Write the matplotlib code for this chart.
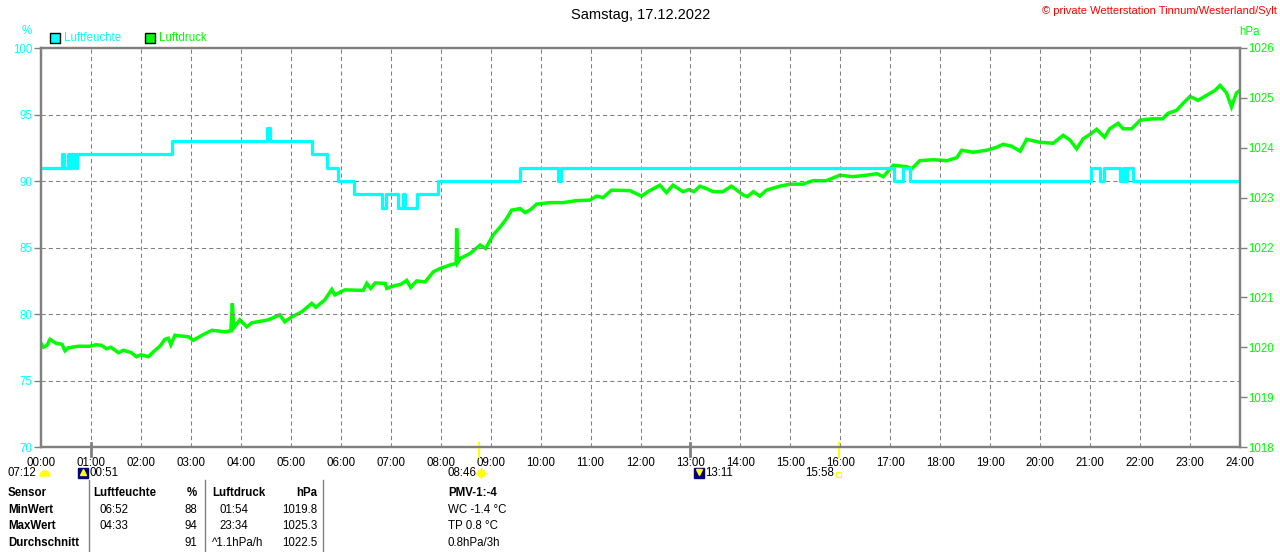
import matplotlib
matplotlib.use("Agg")
import matplotlib.pyplot as plt
from matplotlib.patches import Rectangle, Wedge
from matplotlib.lines import Line2D
from matplotlib.transforms import IdentityTransform, blended_transform_factory

plt.rcParams['font.family'] = ['Liberation Sans', 'DejaVu Sans']

# DATA

# humidity (%), step changes: hour of change -> new value
hum_t = [0.00, 0.42, 0.47, 0.55, 0.58, 0.63, 0.68, 0.73, 2.62, 4.52, 4.58, 5.42, 5.72,
         5.95, 6.27, 6.83, 6.90, 7.15, 7.25, 7.28, 7.52, 7.94, 9.59, 10.35, 10.40,
         17.08, 17.25, 17.40, 21.01, 21.20, 21.28, 21.60, 21.66, 21.70, 21.74, 21.86, 24.00]
hum_v = [91, 92, 91, 92, 91, 92, 91, 92, 93, 94, 93, 92, 91,
         90, 89, 88, 89, 88, 89, 88, 89, 90, 91, 90, 91,
         90, 91, 90, 91, 90, 91, 90, 91, 90, 91, 90, 90]

# air pressure (hPa)
pres_t = [0.00, 0.05, 0.12, 0.18, 0.30, 0.42, 0.48, 0.55, 0.75, 0.98, 1.10, 1.21, 1.31, 1.40,
          1.55, 1.65, 1.81, 1.91, 2.00, 2.15, 2.25, 2.38, 2.48, 2.55, 2.60, 2.68, 2.95, 3.05,
          3.22, 3.42, 3.68, 3.80, 3.83, 3.86, 3.98, 4.12, 4.22, 4.55, 4.78, 4.88, 5.02, 5.22,
          5.42, 5.50, 5.68, 5.82, 5.88, 6.08, 6.45, 6.52, 6.60, 6.69, 6.89, 6.92, 7.09, 7.20,
          7.32, 7.40, 7.52, 7.69, 7.85, 7.99, 8.19, 8.31, 8.32, 8.34, 8.39, 8.59, 8.79, 8.90,
          9.05, 9.19, 9.32, 9.42, 9.59, 9.69, 9.80, 9.92, 10.19, 10.45, 10.72, 10.99, 11.12,
          11.25, 11.42, 11.79, 12.02, 12.15, 12.39, 12.52, 12.65, 12.85, 12.97, 13.07, 13.19,
          13.32, 13.45, 13.65, 13.82, 14.06, 14.14, 14.26, 14.39, 14.52, 14.79, 14.99, 15.25,
          15.45, 15.72, 15.99, 16.25, 16.53, 16.73, 16.86, 17.06, 17.33, 17.43, 17.59, 17.86,
          18.13, 18.33, 18.43, 18.66, 18.93, 19.13, 19.26, 19.43, 19.60, 19.73, 19.99, 20.26,
          20.46, 20.60, 20.73, 20.86, 21.00, 21.13, 21.29, 21.39, 21.56, 21.66, 21.83, 22.00,
          22.13, 22.26, 22.45, 22.56, 22.73, 22.86, 23.00, 23.16, 23.33, 23.50, 23.60, 23.73,
          23.83, 23.93, 24.00]
pres_v = [1020.08, 1020.00, 1020.04, 1020.16, 1020.08, 1020.06, 1019.93, 1019.99, 1020.02,
          1020.02, 1020.05, 1020.04, 1019.97, 1020.00, 1019.89, 1019.94, 1019.89, 1019.81,
          1019.85, 1019.81, 1019.91, 1020.02, 1020.16, 1020.18, 1020.05, 1020.24, 1020.21,
          1020.14, 1020.24, 1020.34, 1020.31, 1020.33, 1020.88, 1020.39, 1020.55, 1020.41,
          1020.49, 1020.55, 1020.65, 1020.51, 1020.61, 1020.71, 1020.88, 1020.80, 1020.95,
          1021.16, 1021.05, 1021.15, 1021.14, 1021.28, 1021.18, 1021.29, 1021.28, 1021.18,
          1021.24, 1021.26, 1021.34, 1021.20, 1021.33, 1021.31, 1021.51, 1021.58, 1021.65,
          1021.68, 1022.38, 1021.70, 1021.78, 1021.88, 1022.05, 1021.98, 1022.25, 1022.41,
          1022.58, 1022.75, 1022.78, 1022.70, 1022.76, 1022.87, 1022.90, 1022.90, 1022.94,
          1022.95, 1023.03, 1023.00, 1023.15, 1023.14, 1023.03, 1023.12, 1023.25, 1023.10,
          1023.25, 1023.12, 1023.16, 1023.12, 1023.23, 1023.18, 1023.12, 1023.12, 1023.23,
          1023.05, 1023.02, 1023.12, 1023.03, 1023.15, 1023.23, 1023.27, 1023.27, 1023.34,
          1023.34, 1023.45, 1023.42, 1023.45, 1023.48, 1023.42, 1023.65, 1023.62, 1023.58,
          1023.74, 1023.76, 1023.74, 1023.80, 1023.95, 1023.91, 1023.95, 1024.01, 1024.07,
          1024.03, 1023.93, 1024.17, 1024.11, 1024.09, 1024.25, 1024.15, 1023.98, 1024.18,
          1024.27, 1024.37, 1024.21, 1024.38, 1024.49, 1024.38, 1024.38, 1024.55, 1024.57,
          1024.58, 1024.58, 1024.69, 1024.75, 1024.89, 1025.03, 1024.95, 1025.05, 1025.15,
          1025.25, 1025.10, 1024.82, 1025.10, 1025.15]

hour_labels = ["%02d:00" % h for h in range(25)]
hum_ticks = [70, 75, 80, 85, 90, 95, 100]
pres_ticks = [1018, 1019, 1020, 1021, 1022, 1023, 1024, 1025, 1026]

# sun / moon times (hours)
moon_marks = [1.0, 13.0]
sun_marks = [8 + 46 / 60, 15 + 58 / 60]

table_header = ["Sensor", "Luftfeuchte", "%", "Luftdruck", "hPa", "PMV-1:-4"]
table_rows = [["MinWert", "06:52", "88", "01:54", "1019.8", "WC -1.4 °C"],
              ["MaxWert", "04:33", "94", "23:34", "1025.3", "TP 0.8 °C"],
              ["Durchschnitt", "", "91", "^1.1hPa/h", "1022.5", "0.8hPa/3h"]]

CYAN = "#00FFFF"
GREEN = "#00FF00"
GRAY = "#808080"

W, H = 1280, 552


def fx(x):
    return x / W


def fy(y):
    return 1 - y / H


# PLOTTING

fig = plt.figure(figsize=(12.8, 5.52), dpi=100)
ax = fig.add_axes([fx(41), fy(447), (1240 - 41) / W, (447 - 48) / H])
ax2 = ax.twinx()
ax.set_zorder(ax2.get_zorder() + 1)
ax.patch.set_visible(False)

ax2.plot(pres_t, pres_v, color=GREEN, lw=2.5, solid_joinstyle='miter')
ax.plot(hum_t, hum_v, color=CYAN, lw=2.3, drawstyle='steps-post')

ax.set_xlim(0, 24)
ax.set_ylim(70, 100)
ax2.set_ylim(1018, 1026)

ax.set_xticks(range(25))
ax.set_xticklabels(hour_labels, fontsize=8.3)
ax.set_yticks(hum_ticks)
ax.set_yticklabels([str(v) for v in hum_ticks], color=CYAN, fontsize=8.3)
ax2.set_yticks(pres_ticks)
ax2.set_yticklabels([str(v) for v in pres_ticks], color=GREEN, fontsize=8.3)
ax.tick_params(axis='x', length=0, pad=7.5)
ax.tick_params(axis='y', length=5, width=1, color=GRAY, pad=1)
ax2.tick_params(axis='y', length=5, width=1, color=GRAY, pad=1)

for a in (ax, ax2):
    for s in a.spines.values():
        s.set_color(GRAY)
        s.set_linewidth(1.6)

for h in range(1, 24):
    ax.axvline(h, color=GRAY, lw=0.75, dashes=(4, 3), zorder=0)
for v in hum_ticks[1:-1]:
    ax.axhline(v, color=GRAY, lw=0.75, dashes=(4, 3), zorder=0)

trans = blended_transform_factory(ax.transData, ax.transAxes)
for m in moon_marks:
    ax.plot([m, m], [-0.022, 0.01], color=GRAY, lw=2, transform=trans, clip_on=False)
for s in sun_marks:
    ax.plot([s, s], [-0.025, 0.01], color="#FFFF00", lw=1.5, transform=trans, clip_on=False)

# TITLE AND TEXTS

fig.text(fx(641), fy(15), "Samstag, 17.12.2022", ha='center', va='center', fontsize=10.5)
fig.text(fx(1277), fy(11), "© private Wetterstation Tinnum/Westerland/Sylt",
         ha='right', va='center', fontsize=8, color="#FF0000")
fig.text(fx(27), fy(31), "%", ha='center', va='center', fontsize=8.3, color=CYAN)
fig.text(fx(1250), fy(32), "hPa", ha='center', va='center', fontsize=8.3, color=GREEN)

fig.add_artist(Rectangle((fx(50), fy(43)), fx(10), 10 / H, facecolor=CYAN,
                         edgecolor='black', lw=1, transform=fig.transFigure))
fig.text(fx(64), fy(38), "Luftfeuchte", ha='left', va='center', fontsize=8.3, color=CYAN)
fig.add_artist(Rectangle((fx(145), fy(43)), fx(10), 10 / H, facecolor=GREEN,
                         edgecolor='black', lw=1, transform=fig.transFigure))
fig.text(fx(159), fy(38), "Luftdruck", ha='left', va='center', fontsize=8.3, color=GREEN)

# sun and moon rise / set row
ident = IdentityTransform()
fig.text(fx(8), fy(473), "07:12", ha='left', va='center', fontsize=8.3)
fig.add_artist(Wedge((45, H - 476), 5, 0, 180, color="#FFFF00", transform=ident))

fig.add_artist(Rectangle((78, H - 478), 10, 10, color="#000080", transform=ident))
fig.add_artist(Line2D([83], [H - 472], marker='^', color="#FFFF00", markersize=4,
                      transform=ident))
fig.text(fx(89), fy(473), "00:51", ha='left', va='center', fontsize=8.3)

fig.text(fx(476), fy(473), "08:46", ha='right', va='center', fontsize=8.3)
fig.add_artist(Line2D([481], [H - 473], marker='o', color="#FFFF00", markersize=5,
                      transform=ident))
fig.add_artist(Line2D([481], [H - 473], marker='+', color="#FFFF00", markersize=9,
                      mew=1, transform=ident))

fig.add_artist(Rectangle((694, H - 478), 10, 10, color="#000080", transform=ident))
fig.add_artist(Line2D([699], [H - 472], marker='v', color="#FFFF00", markersize=4,
                      transform=ident))
fig.text(fx(705), fy(473), "13:11", ha='left', va='center', fontsize=8.3)

fig.text(fx(834), fy(473), "15:58", ha='right', va='center', fontsize=8.3)
fig.add_artist(Rectangle((836, H - 477), 5, 5, facecolor='none', edgecolor="#FFFF00",
                         lw=0.8, transform=ident))

# TABLE

for xl in [88.5, 205, 323]:
    fig.add_artist(Line2D([fx(xl), fx(xl)], [fy(480), 0], color=GRAY, lw=1,
                          transform=fig.transFigure))

col_x = [8, 93, 197, 212, 317, 448]
col_ha = ['left', 'left', 'right', 'left', 'right', 'left']
row_y = [493, 510, 526, 543]

for i, txt in enumerate(table_header):
    fig.text(fx(col_x[i]), fy(row_y[0]), txt, ha=col_ha[i], va='center',
             fontsize=8.3, fontweight='bold')
for r, row in enumerate(table_rows):
    for i, txt in enumerate(row):
        x = col_x[i]
        if i in (1, 3) and txt[:1].isdigit():
            x += 7
        fig.text(fx(x), fy(row_y[r + 1]), txt, ha=col_ha[i], va='center', fontsize=8.3,
                 fontweight='bold' if i == 0 else 'normal')

fig.savefig("out.png", dpi=100)
